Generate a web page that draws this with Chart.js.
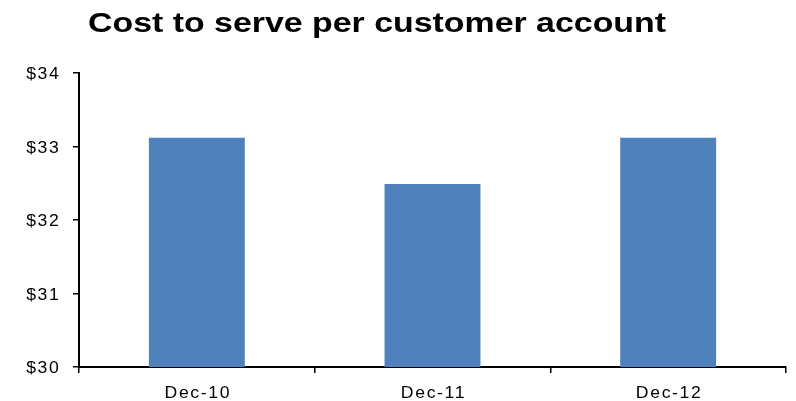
<!DOCTYPE html>
<html>
<head>
<meta charset="utf-8">
<script src="https://cdn.jsdelivr.net/npm/chart.js@4/dist/chart.umd.min.js"></script>
<style>
  html, body { margin: 0; padding: 0; background: #ffffff; }
  canvas { display: block; }
</style>
</head>
<body>
<canvas id="chart" width="796" height="401"></canvas>
<script>
// Chart data
const categories = ['Dec-10', 'Dec-11', 'Dec-12'];
const costPerAccount = [33.12, 32.49, 33.12];
const yTicks = [30, 31, 32, 33, 34];
const chartTitle = 'Cost to serve per customer account';

// Draw text horizontally widened around an anchor point
function wideText(ctx, text, x, y, font, align, stretch, spacing) {
  ctx.save();
  ctx.font = font;
  ctx.letterSpacing = spacing + 'px';
  ctx.fillStyle = '#000000';
  ctx.textBaseline = 'alphabetic';
  ctx.textAlign = align;
  ctx.translate(x, y);
  ctx.scale(stretch, 1);
  ctx.fillText(text, 0, 0);
  ctx.restore();
}

// Title and axis labels, placed from the chart's own scales
const labelPlugin = {
  id: 'wideLabels',
  afterDraw(chart) {
    const ctx = chart.ctx;
    wideText(ctx, chartTitle, 88, 32, 'bold 28px "Liberation Sans", Arial, sans-serif', 'left', 1.21, 0);

    const labelFont = '16px "Liberation Sans", Arial, sans-serif';
    const y = chart.scales.y;
    y.ticks.forEach((t, i) => {
      wideText(ctx, '$' + t.value, 60.5, y.getPixelForTick(i) + 6, labelFont, 'right', 1.1, 1.5);
    });
    const x = chart.scales.x;
    x.ticks.forEach((t, i) => {
      wideText(ctx, categories[t.value], x.getPixelForTick(i) + 1, 398, labelFont, 'center', 1.1, 1.5);
    });
  }
};

new Chart(document.getElementById('chart'), {
  type: 'bar',
  data: {
    labels: categories,
    datasets: [{
      data: costPerAccount,
      backgroundColor: '#4F81BD',
      borderWidth: 0,
      categoryPercentage: 1.0,
      barPercentage: 0.407
    }]
  },
  options: {
    responsive: false,
    animation: false,
    devicePixelRatio: 1,
    layout: { padding: { left: 0, right: 10, top: 73, bottom: 0 } },
    plugins: {
      legend: { display: false },
      title: { display: false },
      tooltip: { enabled: false }
    },
    scales: {
      x: {
        offset: true,
        grid: {
          offset: true,
          drawOnChartArea: false,
          drawTicks: true,
          tickLength: 6,
          color: '#000000',
          lineWidth: 1.5
        },
        border: { display: true, color: '#000000', width: 2 },
        ticks: { color: 'rgba(0,0,0,0)', font: { size: 15 } },
        afterFit(scale) { scale.height = 34; }
      },
      y: {
        min: yTicks[0],
        max: yTicks[yTicks.length - 1],
        afterBuildTicks(scale) { scale.ticks = yTicks.map(v => ({ value: v })); },
        grid: {
          drawOnChartArea: false,
          drawTicks: true,
          tickLength: 6,
          color: '#000000',
          lineWidth: 1.5
        },
        border: { display: true, color: '#000000', width: 2 },
        ticks: { color: 'rgba(0,0,0,0)', font: { size: 15 } },
        afterFit(scale) { scale.width = 79; }
      }
    }
  },
  plugins: [labelPlugin]
});
</script>
</body>
</html>
